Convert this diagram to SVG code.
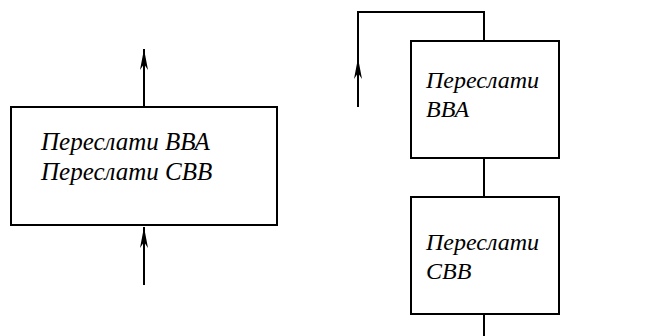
<svg xmlns="http://www.w3.org/2000/svg" width="658" height="336" viewBox="0 0 658 336">
<style>
.box{fill:#fff;stroke:#000;stroke-width:2}
.ln{fill:none;stroke:#000;stroke-width:2}
</style>
<defs>
<marker id="ah" markerUnits="userSpaceOnUse" markerWidth="24" markerHeight="12" viewBox="-22 -6 24 12" refX="0" refY="0" orient="auto">
<path d="M0,0 L-21,-4 L-15,0 L-21,4 Z" fill="#000"/>
</marker>
</defs>
<rect width="658" height="336" fill="#fff"/>
<g id="connectors">
<path class="ln" d="M144,107 L144,49" marker-end="url(#ah)"/>
<path class="ln" d="M144,285 L144,227" marker-end="url(#ah)"/>
<path class="ln" d="M358,107 L358,58" marker-end="url(#ah)"/>
<path class="ln" d="M358,58 L358,12 L484,12 L484,41"/>
<path class="ln" d="M484,158 L484,197"/>
<path class="ln" d="M484,314 L484,336"/>
</g>
<g id="node-left" font-family="Liberation Serif" font-style="italic" font-size="25">
<rect class="box" x="11" y="107" width="266" height="118"/>
<text x="41" y="150">Переслати ВВА</text>
<text x="41" y="180">Переслати СВВ</text>
</g>
<g id="node-bva" font-family="Liberation Serif" font-style="italic" font-size="24">
<rect class="box" x="411" y="41" width="148" height="117"/>
<text x="426" y="88">Переслати</text>
<text x="426" y="117">ВВА</text>
</g>
<g id="node-svv" font-family="Liberation Serif" font-style="italic" font-size="24">
<rect class="box" x="411" y="197" width="148" height="117"/>
<text x="426" y="250">Переслати</text>
<text x="426" y="279">СВВ</text>
</g>
</svg>
